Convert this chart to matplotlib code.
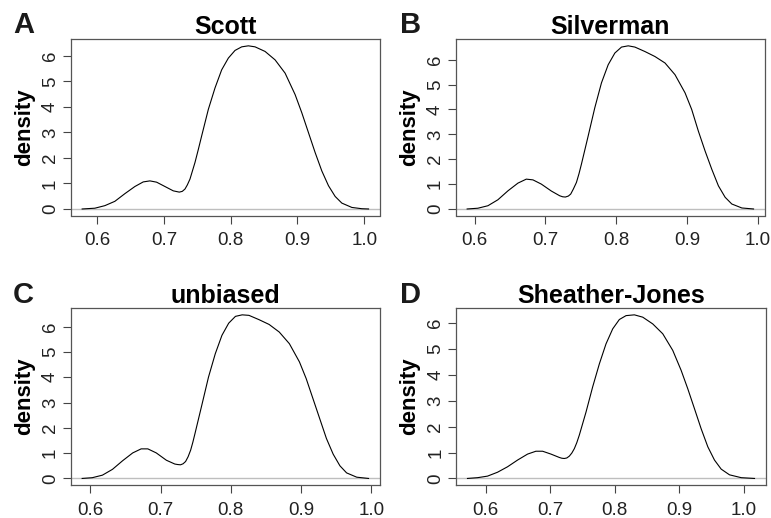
import matplotlib
matplotlib.use("Agg")
import matplotlib.pyplot as plt

plt.rcParams['font.family'] = ['Liberation Sans', 'DejaVu Sans']

# bandwidth methods, panel letters
metode = ["Scott", "Silverman", "unbiased", "Sheather-Jones"]
crke = ["A", "B", "C", "D"]

# density curves
scott_x = [0.5775, 0.5965, 0.6115, 0.6265, 0.6415, 0.6565, 0.669, 0.679, 0.689, 0.7015,
           0.714, 0.723, 0.7275, 0.7315, 0.735, 0.739, 0.7465, 0.7515, 0.7565, 0.7665,
           0.7765, 0.7865, 0.7965, 0.8065, 0.8165, 0.8265, 0.8365, 0.8515, 0.8665, 0.8815,
           0.8965, 0.9065, 0.9165, 0.9265, 0.9365, 0.9465, 0.9565, 0.9665, 0.9815, 0.9965,
           1.0065]
scott_y = [0.0, 0.03, 0.13, 0.30, 0.60, 0.88, 1.06, 1.10, 1.05, 0.88,
           0.71, 0.66, 0.69, 0.78, 0.94, 1.17, 1.82, 2.33, 2.86, 3.90,
           4.74, 5.45, 5.91, 6.21, 6.35, 6.39, 6.35, 6.17, 5.84, 5.32,
           4.48, 3.77, 2.99, 2.21, 1.49, 0.91, 0.49, 0.23, 0.06, 0.01,
           0.0]

silver_x = [0.5896, 0.6047, 0.6189, 0.633, 0.6472, 0.6613, 0.6731, 0.6825, 0.6943, 0.7085,
            0.7203, 0.7245, 0.7283, 0.7325, 0.7358, 0.7395, 0.7439, 0.7475, 0.7509, 0.7604,
            0.7698, 0.7792, 0.7887, 0.7981, 0.8075, 0.817, 0.8264, 0.8406, 0.8547, 0.8689,
            0.883, 0.8972, 0.9066, 0.916, 0.9255, 0.9349, 0.9443, 0.9538, 0.9632, 0.9774,
            0.9939]
silver_y = [0.0, 0.03, 0.13, 0.37, 0.73, 1.04, 1.20, 1.17, 1.00, 0.72,
            0.53, 0.49, 0.48, 0.52, 0.60, 0.80, 1.07, 1.42, 1.80, 2.93,
            4.07, 5.07, 5.80, 6.27, 6.51, 6.56, 6.51, 6.33, 6.13, 5.87,
            5.40, 4.67, 4.00, 3.13, 2.33, 1.60, 0.93, 0.47, 0.20, 0.04,
            0.0]

unb_x = [0.5885, 0.6029, 0.6173, 0.6316, 0.646, 0.6604, 0.6724, 0.6819, 0.6939, 0.7083,
         0.7203, 0.7245, 0.7284, 0.732, 0.7356, 0.7392, 0.7428, 0.7459, 0.749, 0.7586,
         0.7682, 0.7778, 0.7873, 0.7969, 0.8065, 0.8161, 0.8257, 0.84, 0.8544, 0.8688,
         0.8832, 0.8975, 0.9071, 0.9167, 0.9263, 0.9359, 0.9455, 0.9551, 0.9646, 0.979,
         0.9958]
unb_y = [0.0, 0.03, 0.13, 0.36, 0.70, 1.01, 1.17, 1.17, 1.01, 0.72,
         0.57, 0.55, 0.54, 0.58, 0.67, 0.86, 1.12, 1.43, 1.78, 2.89,
         4.01, 4.93, 5.66, 6.14, 6.41, 6.47, 6.45, 6.28, 6.09, 5.79,
         5.33, 4.61, 3.95, 3.16, 2.37, 1.58, 0.96, 0.50, 0.22, 0.05,
         0.0]

sj_x = [0.5715, 0.5871, 0.6026, 0.6181, 0.6336, 0.6492, 0.6647, 0.6776, 0.688, 0.7009,
        0.7139, 0.7178, 0.7216, 0.7255, 0.7294, 0.7333, 0.7372, 0.741, 0.7449, 0.7553,
        0.7656, 0.776, 0.7863, 0.7967, 0.807, 0.8174, 0.8303, 0.8433, 0.8588, 0.8743,
        0.8898, 0.9028, 0.9131, 0.9235, 0.9338, 0.9442, 0.9545, 0.9649, 0.9778, 0.996,
        1.0166]
sj_y = [0.0, 0.03, 0.09, 0.24, 0.45, 0.71, 0.94, 1.05, 1.05, 0.94,
        0.81, 0.78, 0.77, 0.79, 0.86, 0.98, 1.15, 1.38, 1.67, 2.56,
        3.53, 4.42, 5.19, 5.77, 6.13, 6.28, 6.31, 6.22, 5.96, 5.58,
        4.94, 4.17, 3.46, 2.69, 1.92, 1.22, 0.71, 0.36, 0.14, 0.03,
        0.0]

krivulje = [(scott_x, scott_y), (silver_x, silver_y), (unb_x, unb_y), (sj_x, sj_y)]
x_oznake = [0.6, 0.7, 0.8, 0.9, 1.0]
y_oznake = [0, 1, 2, 3, 4, 5, 6]

W, H = 771, 518
fig = plt.figure(figsize=(W / 100, H / 100), dpi=100)

# axes boxes in pixels: left, top, right, bottom
okvirji = [(70.7, 39.3, 380, 215.5), (455.7, 39.3, 765, 215.5),
           (70.7, 308.3, 380, 485), (456, 308.3, 766, 485)]
crka_pos = [(13, 33.3), (400, 33.3), (13, 302.7), (400, 302.7)]

for i, (x, y) in enumerate(krivulje):
    l, t, r, b = okvirji[i]
    ax = fig.add_axes([l / W, 1 - b / H, (r - l) / W, (b - t) / H])
    ax.axhline(0, color='#bebebe', linewidth=1.0, zorder=1)
    ax.plot(x, y, color='black', linewidth=0.8, zorder=2)
    ax.margins(x=0.04, y=0.04)
    ax.set_xticks(x_oznake)
    ax.set_yticks(y_oznake)
    ax.tick_params(direction='out', length=6, width=0.8, color='#444444',
                   labelsize=13.5, labelcolor='#222222')
    ax.tick_params(axis='x', pad=6)
    ax.tick_params(axis='y', pad=2.5)
    plt.setp(ax.get_yticklabels(), rotation=90, va='center')
    for s in ax.spines.values():
        s.set_color('#555555')
        s.set_linewidth(0.9)
    ax.set_ylabel("density", fontsize=16, fontweight='bold')
    ax.yaxis.set_label_coords(-0.115, 0.5)
    ax.set_title(metode[i], fontsize=18, fontweight='bold', pad=3)
    cx, cy = crka_pos[i]
    fig.text(cx / W, 1 - cy / H, crke[i], fontsize=21, fontweight='bold',
             ha='left', va='baseline', color='#1a1a1a')

fig.savefig("out.png", dpi=100)
